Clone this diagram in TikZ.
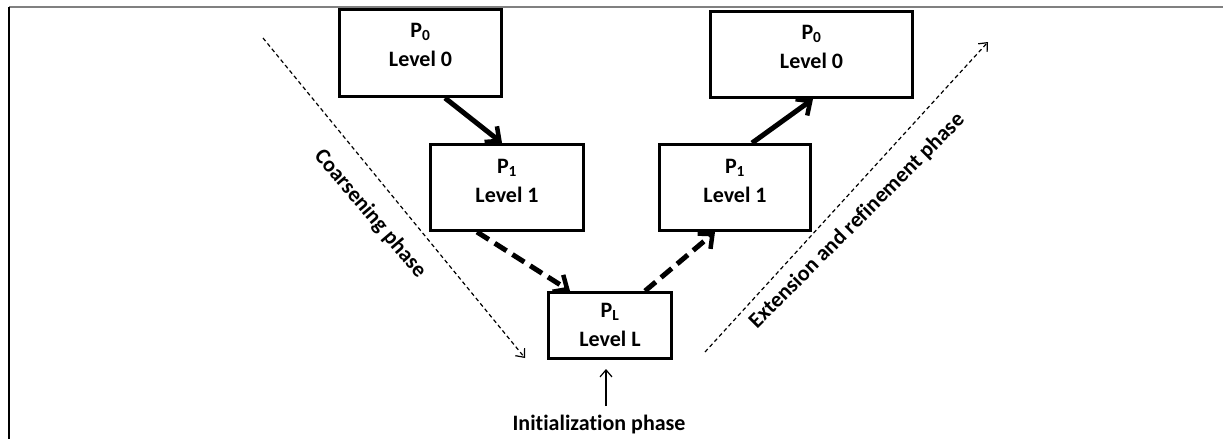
\documentclass[tikz,border=0pt]{standalone}
\usepackage{fontspec}
\setmainfont{Carlito}[Ligatures=NoCommon]
\usetikzlibrary{arrows.meta,calc}
\begin{document}
\begin{tikzpicture}[x=1pt,y=-1pt,
  box/.style={draw=black,line width=3pt,inner sep=0pt},
  boxtext/.style={inner sep=0pt,align=center,
    font=\bfseries\fontsize{22}{29}\selectfont},
  flow/.style={line width=5pt,-{Straight Barb[length=11pt,width=20pt,line width=4.5pt]}},
  dflow/.style={flow,dash pattern=on 14pt off 7pt},
  phasearrow/.style={line width=1.2pt,dash pattern=on 4pt off 3pt,
    -{Straight Barb[length=7pt,width=12pt,line width=1.2pt]}},
  phase/.style={font=\bfseries\fontsize{22}{24}\selectfont,inner sep=0pt},
  frame/.style={line width=1.5pt}
]
\useasboundingbox (0,0) rectangle (1223,439);
% frame lines
\draw[frame,gray] (9,7) -- (1223,7);
\draw[frame,black] (9,7) -- (9,439);

% boxes
\node[box,minimum width=162pt,minimum height=87pt] (p0l) at (420.5,53) {};
\node[box,minimum width=153pt,minimum height=86pt] (p1l) at (507,187.5) {};
\node[box,minimum width=123pt,minimum height=66pt] (pL) at (610,325.5) {};
\node[box,minimum width=151pt,minimum height=86pt] (p1r) at (735,187.5) {};
\node[box,minimum width=202pt,minimum height=86pt] (p0r) at (811.5,54.5) {};

\node[boxtext] (t0l) at ($(p0l)+(0,-8)$) {P\textsubscript{0}\\Level 0};
\node[boxtext] (t1l) at ($(p1l)+(0,-7)$) {P\textsubscript{1}\\Level 1};
\node[boxtext] (tL) at ($(pL)+(0,-1)$) {P\textsubscript{L}\\Level L};
\node[boxtext] (t1r) at ($(p1r)+(0,-7)$) {P\textsubscript{1}\\Level 1};
\node[boxtext] (t0r) at ($(p0r)+(0,-8)$) {P\textsubscript{0}\\Level 0};

% flow arrows
\draw[flow] ($(p0l.south)+(24.5,0)$) -- ($(p1l.north)+(-5,0)$);
\draw[dflow] ($(p1l.south)+(-30,0)$) -- ($(pL.north)+(-40,0)$);
\draw[dflow] ($(pL.north)+(35,0)$) -- ($(p1r.south)+(-20,0)$);
\draw[flow] ($(p1r.north)+(17,0)$) -- ($(p0r.south)+(1.5,0)$);

% phase arrows
\coordinate (cs) at (263,38);
\coordinate (ce) at (525,358);
\coordinate (es) at (705,352);
\coordinate (ee) at (988,42);
\draw[phasearrow] (cs) -- (ce);
\draw[phasearrow] (es) -- (ee);

\node[phase,rotate=-49.6] (coarse) at (370,214) {Coarsening phase};
\node[phase,rotate=45] (ext) at (857,221) {Extension and refinement phase};

% initialization
\node[phase] (init) at (599,425) {Initialization phase};
\draw[line width=1.2pt,-{Straight Barb[length=7pt,width=12pt,line width=1.2pt]}]
  ($(pL.south)+(-4,46)$) -- ($(pL.south)+(-4,9)$);
\end{tikzpicture}
\end{document}
